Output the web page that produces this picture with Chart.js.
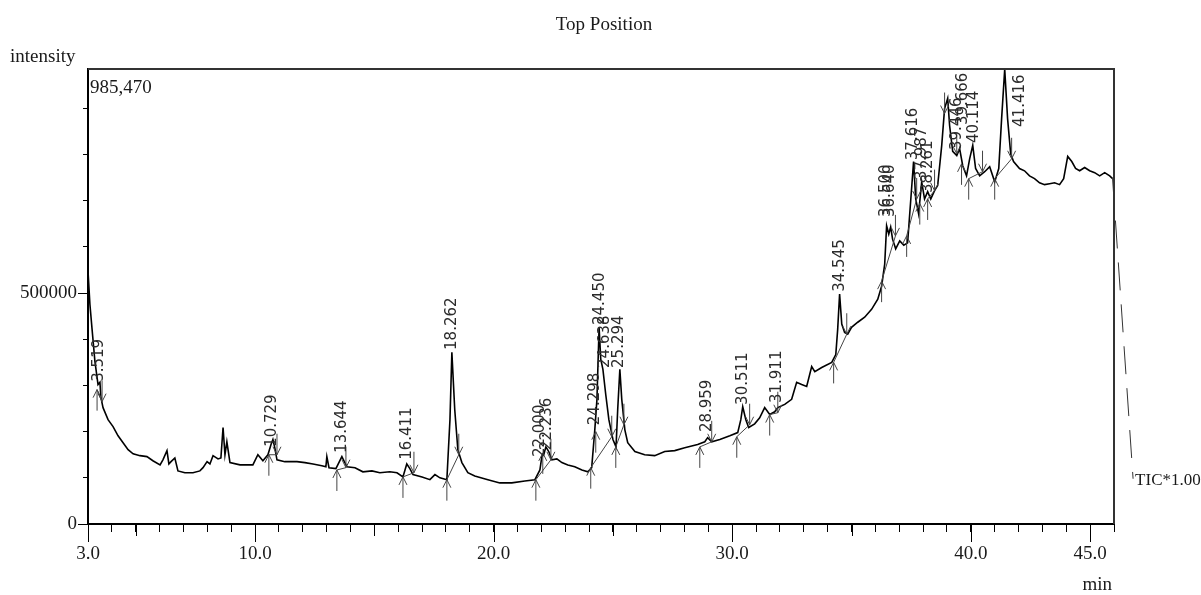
<!DOCTYPE html>
<html>
<head>
<meta charset="utf-8">
<script src="https://cdn.jsdelivr.net/npm/chart.js@4.4.0/dist/chart.umd.min.js"></script>
<style>
  html, body { margin: 0; padding: 0; background: #fff; }
  #wrap { width: 1201px; height: 595px; }
</style>
</head>
<body>
<div id="wrap"><canvas id="tic"></canvas></div>
<script>
// retention time (min) and intensity (x1000)
const times = [
  3.00,3.08,3.17,3.29,3.42,3.50,3.54,3.63,3.84,4.05,
  4.26,4.47,4.68,4.89,5.18,5.47,5.72,6.02,6.14,6.31,
  6.39,6.48,6.64,6.77,7.06,7.40,7.69,7.82,7.99,8.11,
  8.24,8.45,8.57,8.66,8.74,8.82,8.95,9.37,9.91,10.12,
  10.33,10.54,10.67,10.75,10.83,10.92,11.25,11.76,12.09,12.43,
  12.80,12.97,13.01,13.10,13.39,13.64,13.85,14.19,14.52,14.90,
  15.23,15.65,15.95,16.20,16.36,16.49,16.62,17.00,17.33,17.54,
  17.75,18.04,18.17,18.25,18.37,18.50,18.67,18.92,19.21,19.76,
  20.26,20.76,21.31,21.73,21.94,22.02,22.10,22.19,22.31,22.44,
  22.65,22.86,23.11,23.40,23.70,23.95,24.11,24.24,24.33,24.42,
  24.49,24.58,24.70,24.83,25.00,25.13,25.20,25.29,25.37,25.50,
  25.62,25.92,26.33,26.75,27.17,27.59,28.01,28.55,28.85,28.97,
  29.14,29.48,29.90,30.23,30.36,30.44,30.57,30.69,30.94,31.15,
  31.36,31.57,31.78,31.91,32.20,32.49,32.70,32.91,33.12,33.33,
  33.46,33.75,34.17,34.34,34.42,34.50,34.59,34.71,34.84,35.00,
  35.26,35.55,35.84,36.10,36.26,36.39,36.47,36.56,36.64,36.72,
  36.85,37.02,37.19,37.35,37.60,37.69,37.81,37.94,38.06,38.19,
  38.32,38.48,38.61,38.78,38.90,39.03,39.11,39.24,39.41,39.53,
  39.66,39.82,39.95,40.08,40.20,40.37,40.58,40.79,41.00,41.17,
  41.29,41.42,41.54,41.67,41.79,42.04,42.25,42.46,42.67,42.88,
  43.09,43.30,43.51,43.72,43.89,44.06,44.23,44.39,44.56,44.77,
  44.98,45.19,45.40,45.61,45.82,45.94
];
const intensityK = [
  548,476,422,352,302,307,274,252,226,211,
  191,176,161,152,148,146,137,128,139,159,
  130,135,143,115,111,111,115,122,135,130,
  148,141,143,209,150,178,133,128,128,150,
  137,150,172,183,165,139,135,135,133,130,
  126,124,146,122,120,146,124,122,113,115,
  111,113,111,102,130,120,107,102,96,107,
  100,96,226,372,248,161,133,111,104,96,
  89,89,93,96,117,146,150,167,157,139,
  141,133,128,124,117,113,122,204,270,426,
  357,335,280,226,183,167,248,335,270,204,
  176,157,150,148,157,159,165,172,178,187,
  178,183,191,198,226,254,226,209,217,230,
  252,237,243,252,259,270,307,302,298,341,
  330,339,350,367,422,498,433,415,411,426,
  437,448,465,487,515,563,646,628,643,617,
  596,613,604,609,785,704,672,741,704,720,
  704,722,733,820,900,922,863,807,798,813,
  776,754,791,820,770,754,763,774,741,770,
  878,985,878,802,785,770,765,754,748,739,
  735,737,739,735,748,796,785,770,765,772,
  765,761,754,761,754,748
];

// peak labels: text, where the label sits (time, intensity at its foot)
const peakNames = ["3.519","10.729","13.644","16.411","18.262","22.000","22.236","24.298","24.450","24.638",
  "25.294","28.959","30.511","31.911","34.545","36.500","36.640","37.616","37.987","38.261",
  "39.446","39.666","40.114","41.416"];
const peakLabelT = [3.46,10.71,13.65,16.37,18.26,21.94,22.24,24.25,24.46,24.67,
  25.25,28.94,30.45,31.88,34.52,36.44,36.61,37.58,37.95,38.21,
  39.42,39.67,40.13,42.06];
const peakLabelK = [308,167,154,139,377,145,160,214,431,338,
  338,199,258,262,503,665,665,788,745,717,
  810,864,825,860];

// integration markers: peak start (arrow up) and end (arrow down)
const startT = [3.38,10.58,13.43,16.20,18.04,21.77,22.06,24.07,24.28,25.12,28.64,30.19,31.57,34.25,36.26,37.31,37.86,38.19,39.61,39.91,41.00];
const startK = [291,150,117,102,96,96,154,122,200,167,167,189,237,350,526,624,694,704,780,748,748];
const endT = [3.59,10.92,13.81,16.66,18.54,22.40,24.95,25.46,29.14,30.73,31.91,34.80,36.84,37.73,38.48,38.90,39.41,40.49,41.71];
const endK = [265,150,122,111,150,139,189,215,178,215,241,411,624,704,722,889,802,763,791];
const baselinePairs = [[0,0],[1,1],[2,2],[3,3],[4,4],[5,5],[7,6],[9,7],[10,8],[11,9],[12,10],[13,11],[14,12],[15,13],[17,14],[19,17],[20,18]];

const xTickLabels = [3, 10, 20, 30, 40, 45];
const xMidTicks = [5, 15, 25, 35];
const yTicks = [0, 100000, 200000, 300000, 400000, 500000, 600000, 700000, 800000, 900000];
const yTickLabels = [0, 500000];
const maxIntensity = 985470;
const tailT = [45.94, 46.80];
const tailK = [748, 98];

const serif = "'Liberation Serif', 'Times New Roman', serif";
const ink = "#1a1a1a";

const extras = {
  id: "extras",
  afterDatasetsDraw(chart) {
    const { ctx, chartArea: a, scales: { x, y } } = chart;
    ctx.save();
    ctx.beginPath();
    ctx.rect(a.left, a.top - 2, a.right - a.left, a.bottom - a.top + 40);
    ctx.clip();
    ctx.strokeStyle = "#444";
    ctx.lineWidth = 1;
    // baselines
    baselinePairs.forEach(([s, e]) => {
      ctx.beginPath();
      ctx.moveTo(x.getPixelForValue(startT[s]), y.getPixelForValue(startK[s] * 1000));
      ctx.lineTo(x.getPixelForValue(endT[e]), y.getPixelForValue(endK[e] * 1000));
      ctx.stroke();
    });
    // arrows
    const arrow = (px, py, dir) => {
      ctx.beginPath();
      ctx.moveTo(px, py);
      ctx.lineTo(px, py + dir * 21);
      ctx.moveTo(px - 4, py + dir * 8);
      ctx.lineTo(px, py);
      ctx.lineTo(px + 4, py + dir * 8);
      ctx.stroke();
    };
    startT.forEach((t, i) => arrow(x.getPixelForValue(t), y.getPixelForValue(startK[i] * 1000), 1));
    endT.forEach((t, i) => arrow(x.getPixelForValue(t), y.getPixelForValue(endK[i] * 1000), -1));
    ctx.restore();

    // rotated peak labels
    ctx.save();
    ctx.fillStyle = "#2b2b2b";
    ctx.font = "15px 'DejaVu Sans', sans-serif";
    ctx.textAlign = "left";
    ctx.textBaseline = "middle";
    peakNames.forEach((name, i) => {
      ctx.save();
      ctx.translate(x.getPixelForValue(peakLabelT[i]), y.getPixelForValue(peakLabelK[i] * 1000));
      ctx.rotate(-Math.PI / 2);
      ctx.fillText(name, 0, 0);
      ctx.restore();
    });
    ctx.restore();
  },
  afterDraw(chart) {
    const { ctx, chartArea: a, scales: { x, y } } = chart;
    ctx.save();
    // frame top / right
    ctx.strokeStyle = "#333";
    ctx.lineWidth = 2;
    ctx.beginPath();
    ctx.moveTo(a.left, a.top);
    ctx.lineTo(a.right, a.top);
    ctx.lineTo(a.right, a.bottom);
    ctx.stroke();
    // longer ticks
    ctx.strokeStyle = "#000";
    ctx.lineWidth = 1;
    ctx.beginPath();
    xTickLabels.forEach(v => {
      const px = Math.round(x.getPixelForValue(v)) + 0.5;
      ctx.moveTo(px, a.bottom); ctx.lineTo(px, a.bottom + 18);
    });
    xMidTicks.forEach(v => {
      const px = Math.round(x.getPixelForValue(v)) + 0.5;
      ctx.moveTo(px, a.bottom); ctx.lineTo(px, a.bottom + 12);
    });
    yTickLabels.forEach(v => {
      const py = Math.round(y.getPixelForValue(v)) + 0.5;
      ctx.moveTo(a.left, py); ctx.lineTo(a.left - 10, py);
    });
    ctx.stroke();
    // texts
    ctx.fillStyle = ink;
    ctx.textBaseline = "middle";
    ctx.font = "19px " + serif;
    ctx.textAlign = "center";
    ctx.fillText("Top Position", 604, 25);
    ctx.textAlign = "left";
    ctx.fillText("intensity", 10, 57);
    ctx.fillText(maxIntensity.toLocaleString("en-US"), a.left + 2, a.top + 19);
    ctx.font = "17px " + serif;
    const tx = x.getPixelForValue(tailT[1]);
    const ty = y.getPixelForValue(tailK[1] * 1000);
    ctx.fillText("TIC*1.00", tx + 2, ty + 2);
    ctx.textAlign = "right";
    ctx.font = "19px " + serif;
    ctx.fillText("min", a.right - 2, 585);
    ctx.restore();
  }
};

new Chart(document.getElementById("tic"), {
  type: "line",
  data: {
    datasets: [
      {
        data: times.map((t, i) => ({ x: t, y: intensityK[i] * 1000 })),
        borderColor: "#000",
        borderWidth: 1.6,
        pointRadius: 0,
        tension: 0
      },
      {
        data: tailT.map((t, i) => ({ x: t, y: tailK[i] * 1000 })),
        borderColor: "#333",
        borderWidth: 1,
        borderDash: [28, 14],
        pointRadius: 0,
        clip: false
      }
    ]
  },
  options: {
    responsive: true,
    maintainAspectRatio: false,
    animation: false,
    layout: { padding: { left: 0, right: 87, top: 69, bottom: 0 } },
    plugins: {
      legend: { display: false },
      tooltip: { enabled: false },
      title: { display: false }
    },
    scales: {
      x: {
        type: "linear",
        min: 3,
        max: 46,
        afterFit: s => { s.height = 71; },
        border: { color: "#000", width: 2 },
        grid: { drawOnChartArea: false, tickLength: 8, color: "#000" },
        ticks: {
          stepSize: 1,
          autoSkip: false,
          maxRotation: 0,
          padding: 11,
          color: ink,
          font: { family: serif, size: 19 },
          callback: v => xTickLabels.includes(v) ? v.toFixed(1) : ""
        }
      },
      y: {
        min: 0,
        max: maxIntensity,
        afterFit: s => { s.width = 88; },
        afterBuildTicks: s => { s.ticks = yTicks.map(v => ({ value: v })); },
        border: { color: "#000", width: 2 },
        grid: { drawOnChartArea: false, tickLength: 5, color: "#000" },
        ticks: {
          autoSkip: false,
          padding: 6,
          color: ink,
          font: { family: serif, size: 19 },
          callback: v => yTickLabels.includes(v) ? String(v) : ""
        }
      }
    }
  },
  plugins: [extras]
});
</script>
</body>
</html>
